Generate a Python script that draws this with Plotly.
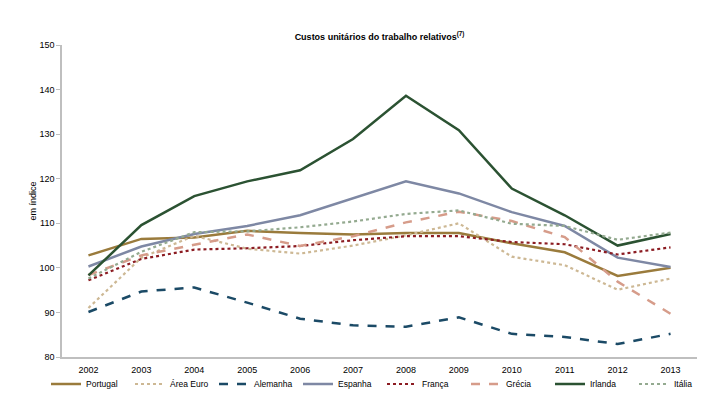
import plotly.graph_objects as go

years = ["2002", "2003", "2004", "2005", "2006", "2007", "2008", "2009", "2010", "2011", "2012", "2013"]

portugal = [102.8, 106.5, 106.8, 108.3, 107.8, 107.5, 107.8, 107.8, 105.5, 103.5, 98.2, 100.0]
area_euro = [91.0, 102.3, 107.2, 104.3, 103.2, 105.0, 107.3, 110.0, 102.5, 100.6, 95.1, 97.6]
alemanha = [90.1, 94.7, 95.6, 92.2, 88.6, 87.1, 86.8, 88.9, 85.2, 84.5, 82.9, 85.2]
espanha = [100.3, 104.8, 107.6, 109.4, 111.8, 115.6, 119.4, 116.7, 112.5, 109.4, 102.3, 100.2]
franca = [97.2, 102.0, 104.1, 104.4, 104.9, 106.2, 107.1, 107.1, 105.8, 105.3, 103.0, 104.6]
grecia = [98.4, 102.8, 105.2, 107.5, 104.9, 107.1, 110.2, 112.6, 110.5, 106.9, 96.9, 89.7]
irlanda = [98.3, 109.6, 116.1, 119.4, 121.9, 128.9, 138.6, 130.9, 117.8, 111.8, 105.0, 107.6]
italia = [97.6, 103.6, 108.0, 108.2, 109.1, 110.4, 112.1, 112.9, 109.9, 109.4, 106.3, 107.9]

series = [
    ("Portugal", portugal, "#9A7B3C", "solid", 2.5),
    ("Área Euro", area_euro, "#CDB894", "dot", 2.2),
    ("Alemanha", alemanha, "#1B4A66", "dash", 2.5),
    ("Espanha", espanha, "#7E88A4", "solid", 2.5),
    ("França", franca, "#8C1C22", "dot", 2.2),
    ("Grécia", grecia, "#D69C8A", "dash", 2.5),
    ("Irlanda", irlanda, "#2B5232", "solid", 2.5),
    ("Itália", italia, "#94AA90", "dot", 2.2),
]

font_family = "Liberation Sans Narrow, Arial Narrow, Liberation Sans, Arial, sans-serif"

W, H = 706, 390  # page body adds an 8px margin
L, T, PW, PH = 54, 37, 635, 312

fig = go.Figure()
for name, vals, color, dash, w in series:
    fig.add_trace(go.Scatter(
        x=years, y=vals, name=name, mode="lines",
        line=dict(color=color, dash=dash, width=w),
    ))

fig.update_layout(
    width=W, height=H,
    margin=dict(l=L, r=W - L - PW, t=T, b=H - T - PH, autoexpand=False),
    paper_bgcolor="white", plot_bgcolor="white",
    font=dict(family=font_family, size=9, color="#000000"),
    title=dict(
        text="<b>Custos unitários do trabalho relativos</b><sup><b>(7)</b></sup>",
        x=0.5, xanchor="center", xref="paper",
        y=1 - 29 / H, yanchor="middle",
        font=dict(size=9, family=font_family),
    ),
    showlegend=True,
    legend=dict(
        orientation="h", xref="paper", yref="paper",
        x=(38 - L) / PW, xanchor="left", y=-(376 - (T + PH)) / PH, yanchor="middle",
        entrywidth=39, entrywidthmode="pixels", itemwidth=30,
        font=dict(size=8.5, family=font_family), bgcolor="rgba(0,0,0,0)",
        tracegroupgap=0,
    ),
    xaxis=dict(
        type="category", range=[-0.5, 11.5], showgrid=False, automargin=False,
        showline=True, linecolor="#BFBFBF", linewidth=1.5,
        ticks="", tickfont=dict(size=9), ticklabelstandoff=3,
    ),
    yaxis=dict(
        range=[80, 150], dtick=10, showgrid=False, automargin=False,
        showline=True, linecolor="#BFBFBF", linewidth=1.5,
        ticks="outside", ticklen=4, tickcolor="#BFBFBF",
        tickfont=dict(size=9),
        title=dict(text="em índice", font=dict(size=9), standoff=1),
    ),
)

fig.write_html("out.html")
